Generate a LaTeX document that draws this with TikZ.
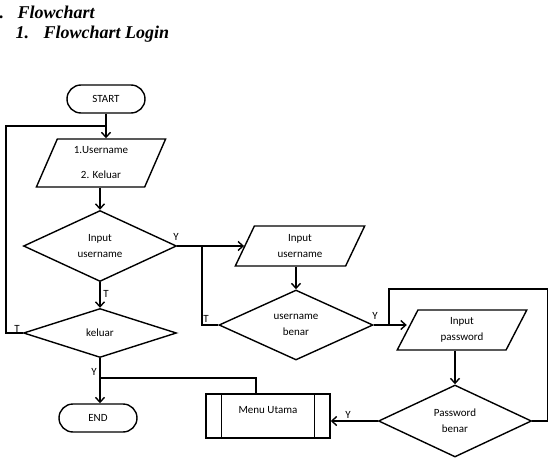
\documentclass[tikz,border=0pt]{standalone}
\usepackage{fontspec}
\setmainfont{Liberation Serif}
\newfontfamily\calib{Carlito}
\usetikzlibrary{shapes.geometric,arrows.meta}
\tikzstyle{title}=[
        font=\fontsize{18}{21}\selectfont\bfseries\itshape,
        inner sep=0pt,
        anchor=base west
]
\tikzstyle{terminal}=[
        draw,
        rounded corners=14pt,
        minimum width=78pt,
        minimum height=28pt,
        font=\calib\fontsize{11}{13}\selectfont
]
\tikzstyle{io}=[
        draw,
        trapezium,
        trapezium left angle=68,
        trapezium right angle=112,
        trapezium stretches=true,
        minimum width=130pt,
        minimum height=40pt,
        inner sep=0pt,
        align=center,
        font=\calib\fontsize{11}{16}\selectfont
]
\tikzstyle{decision}=[
        draw,
        diamond,
        minimum width=153pt,
        minimum height=71pt,
        inner sep=0pt,
        align=center,
        font=\calib\fontsize{11}{16}\selectfont
]
\tikzstyle{subproc}=[
        draw,
        minimum width=124pt,
        minimum height=44pt,
        text depth=12pt,
        font=\calib\fontsize{11}{13}\selectfont
]
\tikzstyle{lbl}=[
        inner sep=0pt,
        font=\calib\fontsize{11}{13}\selectfont
]

\begin{document}
\begin{tikzpicture}[x=1pt,y=-1pt,line width=1.4pt,>={Straight Barb[length=5pt,width=9pt]}]
                        \useasboundingbox (0,0) rectangle (555,458);

                        \node[title] (bab) at (-1,18) {.};
                        \node[title] (judul) at (17,18) {Flowchart};
                        \node[title] (nomor) at (15,38) {1.};
                        \node[title] (subjudul) at (43,38) {Flowchart Login};

                        \node[terminal] (start) at (106,99) {START};
                        \node[io, minimum height=48pt, font=\calib\fontsize{11}{25}\selectfont] (pilih) at (101,163) {1.Username\\2. Keluar};
                        \node[decision] (cekinput) at (100,246) {Input\\username};
                        \node[decision, minimum height=49pt] (keluar) at (100,333) {keluar};
                        \node[terminal] (end) at (98,418) {END};

                        \node[io] (inuser) at (300,246) {Input\\username};
                        \node[decision, minimum width=154pt, minimum height=70pt] (cekuser) at (296,325) {username\\benar};
                        \node[io] (inpass) at (462,330) {Input\\password};
                        \node[decision, minimum height=72pt] (cekpass) at (455,421) {Password\\benar};
                        \node[subproc] (menu) at (268,416) {Menu Utama};
                        \draw ([xshift=16pt]menu.north west) -- ([xshift=16pt]menu.south west);
                        \draw ([xshift=-16pt]menu.north east) -- ([xshift=-16pt]menu.south east);

                        \coordinate (j1) at (106,126);
                        \coordinate (j2) at (202,246);
                        \coordinate (j3) at (389,325);
                        \coordinate (j4) at (100,378);

                        \draw[->] (start.south) -- (start.south |- pilih.north);
                        \draw[->] (cekinput.north |- pilih.south) -- (cekinput.north);
                        \draw[->] (cekinput.south) -- (keluar.north);
                        \draw[->] (keluar.south) -- (keluar.south |- end.north);
                        \draw (keluar.west) -- ++(-17,0) |- (j1);

                        \draw[->] (cekinput.east) -- (cekinput.east -| inuser.west);
                        \draw (j2) |- (cekuser.west);
                        \draw[->] (cekuser.north |- inuser.south) -- (cekuser.north);
                        \draw[->] (cekuser.east) -- (cekuser.east -| inpass.west);
                        \draw[->] (cekpass.north |- inpass.south) -- (cekpass.north);
                        \draw (cekpass.east) -- ++(15,0) |- ([yshift=36pt]j3) -- (j3);
                        \draw[->] (cekpass.west) -- (cekpass.west -| menu.east);
                        \draw ([xshift=-12pt]menu.north) |- (j4);

                        \node[lbl] (ya1) at (176,237) {Y};
                        \node[lbl] (tidak1) at (106,294) {T};
                        \node[lbl] (tidak2) at (17,329) {T};
                        \node[lbl] (tidak3) at (206,319) {T};
                        \node[lbl] (ya2) at (375,316) {Y};
                        \node[lbl] (ya3) at (348,415) {Y};
                        \node[lbl] (ya4) at (94,372) {Y};
                        
                    \end{tikzpicture}
\end{document}
